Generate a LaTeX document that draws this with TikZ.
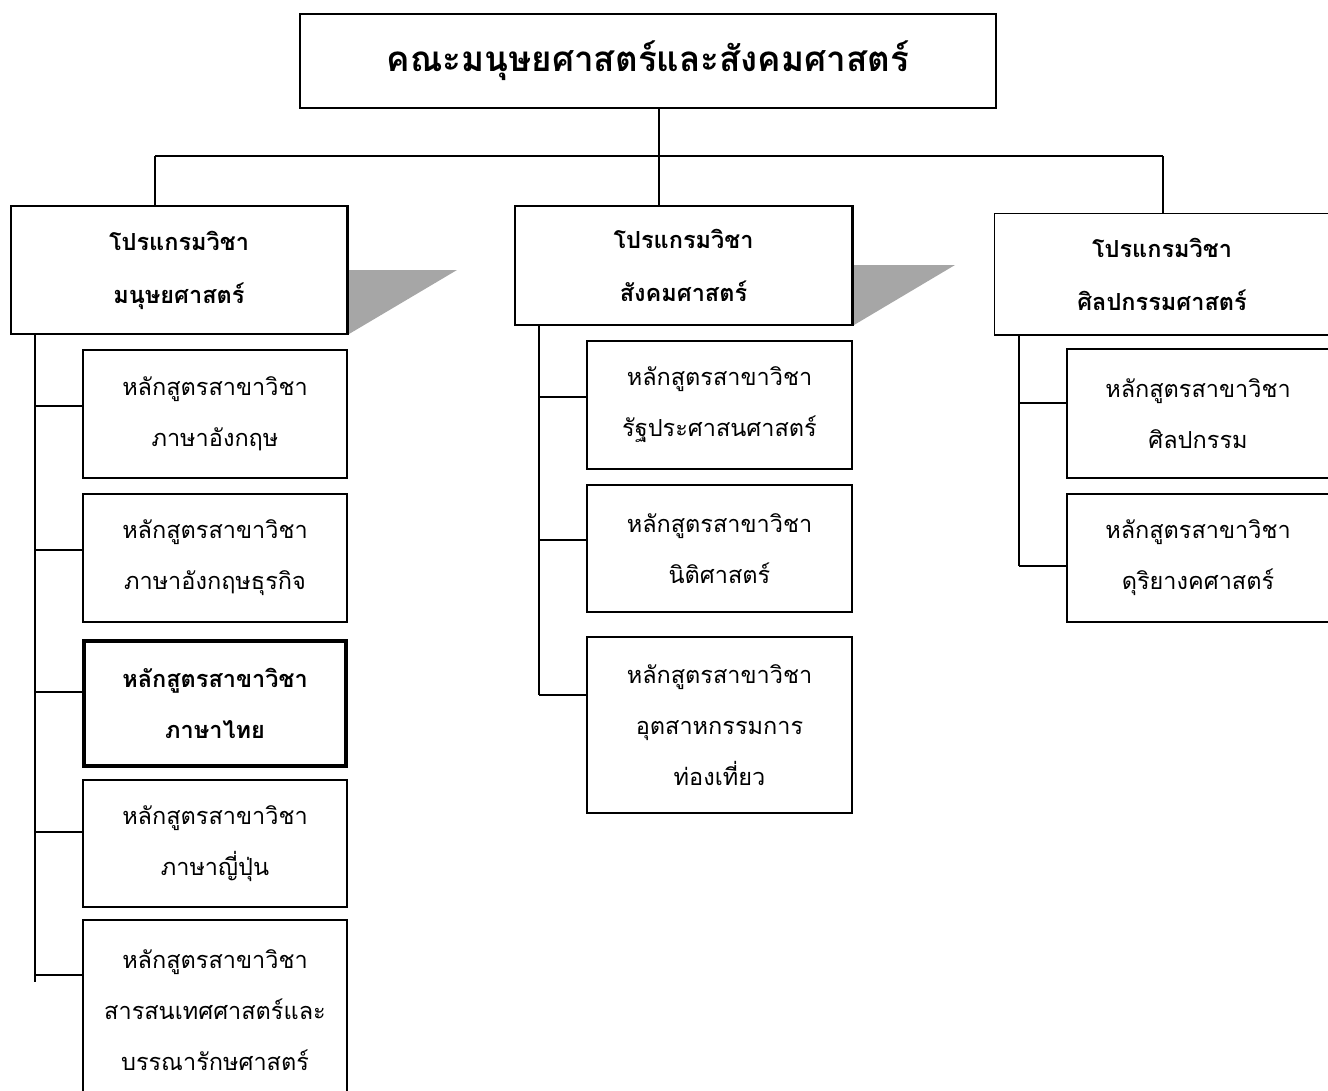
\documentclass[tikz,border=0pt]{standalone}
\usepackage{fontspec}
\newfontfamily\thai[Script=Thai]{Loma}
\begin{document}
\begin{tikzpicture}[x=1pt,y=-1pt,
  ln/.style={line width=1.5pt},
  txt/.style={inner sep=0pt, align=center, font=\thai\fontsize{23.5}{51}\selectfont},
  box/.style={txt, draw, ln},
  prog/.style={box, font=\thai\bfseries\fontsize{23.5}{53}\selectfont},
  shade/.style={fill=black!35, draw=none}]
\useasboundingbox (0,0) rectangle (1328,1090);
% top
\node[box, minimum width=696pt, minimum height=94pt, font=\thai\bfseries\fontsize{35}{40}\selectfont] (top) at (648,61) {คณะมนุษยศาสตร์และสังคมศาสตร์};
% programs
\node[prog, minimum width=336pt, minimum height=128pt] (p1) at (179,270) {โปรแกรมวิชา\\มนุษยศาสตร์};
\node[prog, minimum width=337pt, minimum height=119pt] (p2) at (683.5,265.5) {โปรแกรมวิชา\\สังคมศาสตร์};
\node[prog, draw=none, minimum width=334pt, minimum height=120pt] (p3) at (1162,274) {โปรแกรมวิชา\\ศิลปกรรมศาสตร์};
\draw[ln] (p3.north east) -- (p3.north west) -- (p3.south west) -- (p3.south east);
% shaded triangles
\fill[shade] (p1.east |- 0,270) -- (457,270) -- (p1.south east) -- cycle;
\fill[shade] (p2.east |- 0,265) -- (955,265) -- (p2.south east) -- cycle;
\draw[ln] (p1.north east) -- (p1.south east);
\draw[ln] (p2.north east) -- (p2.south east);
% top connectors
\coordinate (bus) at (659,156);
\draw[ln] (top.south -| bus) -- (bus);
\draw[ln] (bus -| 155,0) -- (bus -| 1163,0);
\draw[ln] (155,156) -- (p1.north -| 155,0);
\draw[ln] (bus) -- (p2.north -| bus);
\draw[ln] (1163,156) -- (p3.north -| 1163,0);
% left column
\node[box, minimum width=264pt, minimum height=128pt] (l1) at (215,414) {หลักสูตรสาขาวิชา\\ภาษาอังกฤษ};
\node[box, minimum width=264pt, minimum height=128pt] (l2) at (215,558) {หลักสูตรสาขาวิชา\\ภาษาอังกฤษธุรกิจ};
\node[box, line width=4pt, minimum width=262pt, minimum height=125pt, font=\thai\bfseries\fontsize{23.5}{51}\selectfont] (l3) at (215,703.5) {หลักสูตรสาขาวิชา\\ภาษาไทย};
\node[box, minimum width=264pt, minimum height=127pt] (l4) at (215,843.5) {หลักสูตรสาขาวิชา\\ภาษาญี่ปุ่น};
\node[txt, minimum width=264pt, minimum height=180pt] (l5) at (215,1010) {หลักสูตรสาขาวิชา\\สารสนเทศศาสตร์และ\\บรรณารักษศาสตร์};
\draw[ln] (l5.south west) -- (l5.north west) -- (l5.north east) -- (l5.south east);
\coordinate (ls) at (35,334);
\coordinate (le) at (35,982);
\draw[ln] (ls) -- (le);
\foreach \n/\y in {l1/406,l2/550,l3/692,l4/832,l5/975}{
  \draw[ln] (35,\y) -- (\n.west |- 0,\y);
}
% middle column
\node[box, minimum width=265pt, minimum height=128pt] (m1) at (719.5,405) {หลักสูตรสาขาวิชา\\รัฐประศาสนศาสตร์};
\node[box, minimum width=265pt, minimum height=127pt] (m2) at (719.5,548.5) {หลักสูตรสาขาวิชา\\นิติศาสตร์};
\node[box, minimum width=265pt, minimum height=176pt] (m3) at (719.5,725) {หลักสูตรสาขาวิชา\\อุตสาหกรรมการ\\ท่องเที่ยว};
\coordinate (ms) at (539,325);
\coordinate (me) at (539,695);
\draw[ln] (ms) -- (me);
\foreach \n/\y in {m1/397,m2/540,m3/695}{
  \draw[ln] (539,\y) -- (\n.west |- 0,\y);
}
% right column
\node[txt, minimum width=262pt, minimum height=129pt] (r1) at (1198,413.5) {หลักสูตรสาขาวิชา\\ศิลปกรรม};
\node[txt, minimum width=262pt, minimum height=128pt] (r2) at (1198,558) {หลักสูตรสาขาวิชา\\ดุริยางคศาสตร์};
\draw[ln] (r1.north east) -- (r1.north west) -- (r1.south west) -- (r1.south east);
\draw[ln] (r2.north east) -- (r2.north west) -- (r2.south west) -- (r2.south east);
\coordinate (rs) at (1019,334);
\coordinate (re) at (1019,566);
\draw[ln] (rs) -- (re);
\foreach \n/\y in {r1/403,r2/566}{
  \draw[ln] (1019,\y) -- (\n.west |- 0,\y);
}
\end{tikzpicture}
\end{document}
